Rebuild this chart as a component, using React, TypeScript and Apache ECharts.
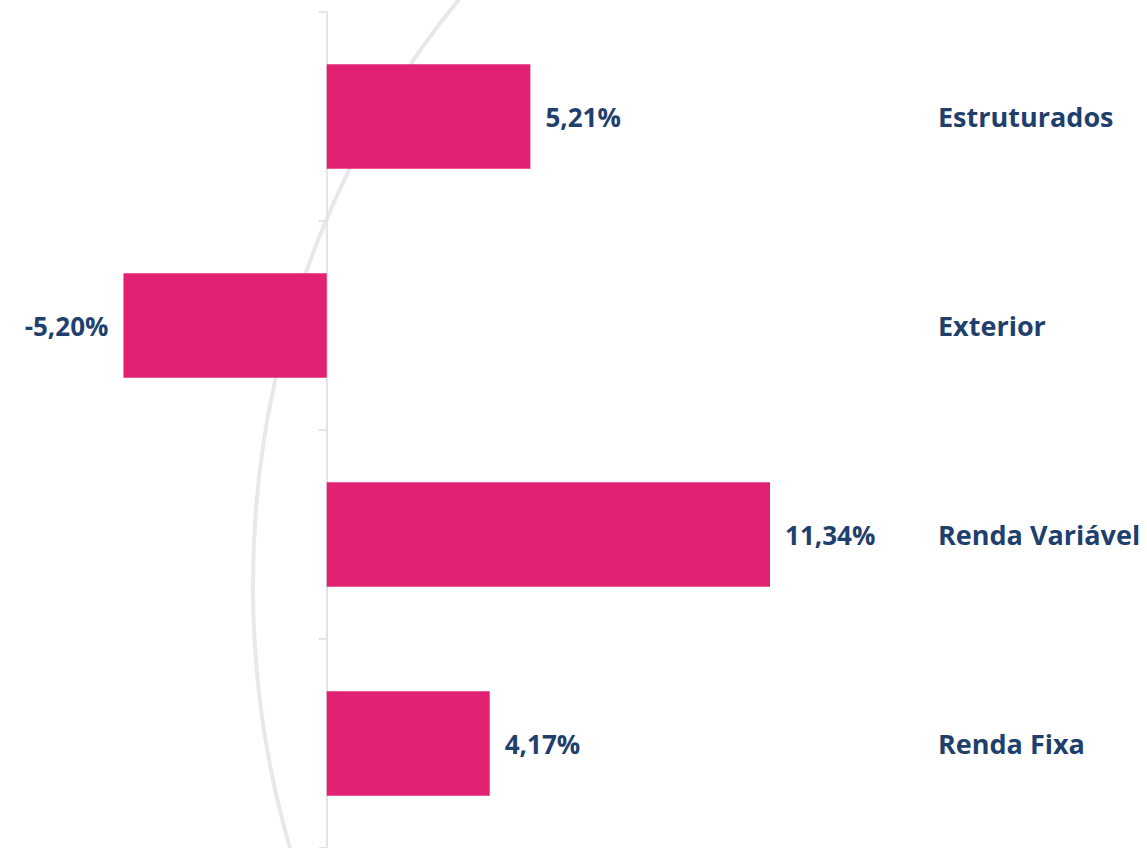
import React, { useEffect, useRef } from "react";
import * as echarts from "echarts";

const categories = ["Estruturados", "Exterior", "Renda Variável", "Renda Fixa"];
const values = [5.21, -5.2, 11.34, 4.17];

const TEXT_COLOR = "#1f3f6d";
const BAR_COLOR = "#e32173";
const FONT = '"Open Sans", sans-serif';

export default function App() {
  const ref = useRef<HTMLDivElement>(null);
  useEffect(() => {
    if (!ref.current) return;
    const chart = echarts.init(ref.current, null, { renderer: "svg" });
    chart.setOption({
      animation: false,
      backgroundColor: "#ffffff",
      graphic: [
        {
          type: "ellipse",
          z: -10,
          silent: true,
          shape: { cx: 1098, cy: 585, rx: 845, ry: 895 },
          style: { fill: "none", stroke: "#e6e8ee", lineWidth: 4 },
        },
      ],
      grid: { left: 14, right: 273, top: 12, height: 838, containLabel: false },
      xAxis: {
        type: "value",
        min: -8,
        max: 14,
        show: false,
        splitLine: { show: false },
      },
      yAxis: [
        {
          type: "category",
          inverse: true,
          data: categories,
          axisLine: { show: true, onZero: true, lineStyle: { color: "#e3e4e8", width: 2 } },
          axisTick: { show: true, length: 8, lineStyle: { color: "#e3e4e8", width: 2 } },
          axisLabel: { show: false },
          splitLine: { show: false },
        },
        {
          type: "category",
          inverse: true,
          position: "right",
          data: categories,
          axisLine: { show: false, onZero: false },
          axisTick: { show: false },
          axisLabel: {
            show: true,
            margin: 64,
            align: "left",
            fontFamily: FONT,
            fontWeight: "bold",
            fontSize: 27,
            color: TEXT_COLOR,
          },
          splitLine: { show: false },
        },
      ],
      series: [
        {
          type: "bar",
          yAxisIndex: 0,
          barWidth: "50%",
          itemStyle: { color: BAR_COLOR },
          data: values.map((v) => ({
            value: v,
            label: { position: v < 0 ? "left" : "right" },
          })),
          label: {
            show: true,
            distance: 15,
            fontFamily: FONT,
            fontWeight: "bold",
            fontSize: 26,
            color: TEXT_COLOR,
            formatter: (p: any) => p.value.toFixed(2).replace(".", ",") + "%",
          },
        },
      ],
    });
    return () => chart.dispose();
  }, []);
  return (
    <div
      ref={ref}
      style={{ position: "absolute", left: 0, top: 0, width: 1147, height: 848 }}
    />
  );
}
